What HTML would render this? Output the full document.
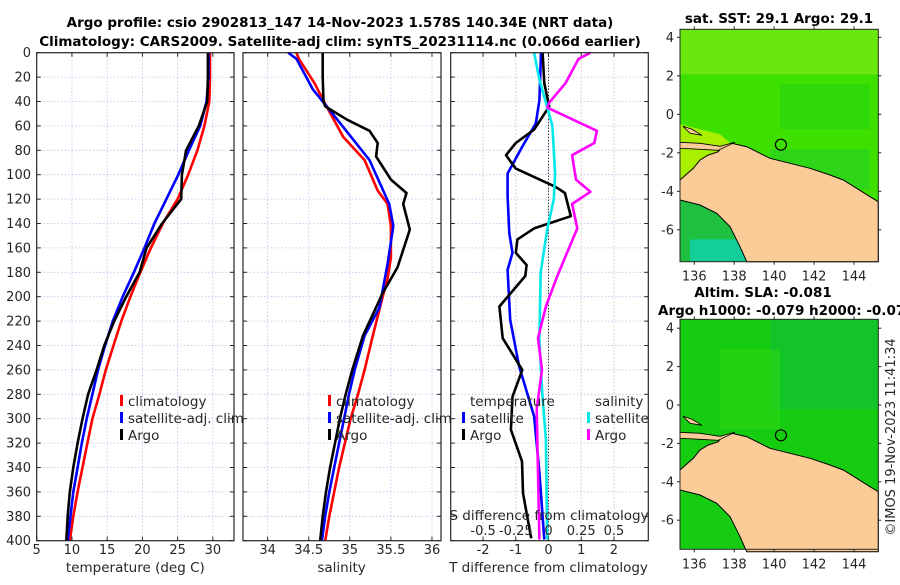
<!DOCTYPE html>
<html><head><meta charset="utf-8"><style>
body{margin:0;background:#fff;width:900px;height:580px;overflow:hidden}
svg text{font-family:"DejaVu Sans","Liberation Sans",sans-serif;fill:#262626}
</style></head><body>
<svg id="fig" width="900" height="580" viewBox="0 0 900 580" xmlns="http://www.w3.org/2000/svg">
<g id="maps"></g>
<g id="plots"></g>
<g id="txt">
<text x="340" y="27" text-anchor="middle" font-size="13.5" font-weight="bold" style="fill:#000">Argo profile: csio 2902813_147 14-Nov-2023 1.578S 140.34E (NRT data)</text>
<text x="340" y="46" text-anchor="middle" font-size="13.5" font-weight="bold" style="fill:#000">Climatology: CARS2009. Satellite-adj clim: synTS_20231114.nc (0.066d earlier)</text>
<text x="779" y="23" text-anchor="middle" font-size="13.5" font-weight="bold" style="fill:#000">sat. SST: 29.1 Argo: 29.1</text>
<text x="763" y="297" text-anchor="middle" font-size="13.5" font-weight="bold" style="fill:#000">Altim. SLA: -0.081</text>
<text x="658" y="315" font-size="13.5" font-weight="bold" style="fill:#000">Argo h1000: -0.079 h2000: -0.07</text>
<text transform="translate(895,437) rotate(-90)" text-anchor="middle" font-size="13">©IMOS 19-Nov-2023 11:41:34</text>
</g>
</svg>
<script>
// ---------- data ----------
const depthTicks=[0,20,40,60,80,100,120,140,160,180,200,220,240,260,280,300,320,340,360,380,400];
const stdDepths=[0,20,40,60,80,100,120,140,160,180,200,220,240,260,280,300,320,340,360,380,400];
const tempClim=[29.6,29.6,29.5,28.8,27.8,26.5,25.0,22.9,21.2,19.7,18.3,17.0,15.9,14.8,13.9,12.9,12.2,11.5,10.8,10.2,9.7];
const tempSat=[29.4,29.4,29.1,28.2,26.6,25.1,23.4,21.7,20.3,18.8,17.2,15.8,14.7,13.7,12.9,12.1,11.4,10.8,10.2,9.8,9.4];
const tempArgo=[29.3,29.3,29.2,28.0,26.2,25.6,25.5,22.8,20.6,19.6,17.7,16.0,14.6,13.5,12.3,11.5,10.8,10.2,9.7,9.4,9.2];
const salDepths=[0,5,25,42,69,88,113,124,142,168,185,200,232,260,280,300,320,340,360,380,400];
const salClim=[34.35,34.38,34.57,34.70,34.92,35.18,35.34,35.46,35.50,35.50,35.46,35.40,35.28,35.18,35.10,35.01,34.94,34.87,34.81,34.75,34.70];
const salSatDepths=[0,5,30,44,88,124,142,173,209,232,260,280,300,320,340,360,380,400];
const salSat=[34.25,34.35,34.55,34.72,35.24,35.48,35.53,35.46,35.36,35.18,35.06,34.99,34.93,34.87,34.81,34.75,34.70,34.66];
const salArgoDepths=[0,20,40,44,55,64,74,85,104,115,124,145,176,197,232,260,280,300,320,340,360,380,400];
const salArgo=[34.67,34.67,34.68,34.70,34.97,35.24,35.34,35.32,35.50,35.69,35.65,35.73,35.58,35.40,35.16,35.03,34.95,34.88,34.82,34.76,34.71,34.67,34.64];
const tdSatDepths=[0,39,58,77,99,118,148,164,178,219,257,298,344,399];
const tdSat=[-0.23,-0.28,-0.39,-0.8,-1.25,-1.25,-1.2,-1.1,-1.25,-1.17,-0.9,-0.44,-0.28,-0.13];
const tdArgoDepths=[0,25,44,63,74,84,95,110,115,134,144,153,164,174,183,208,234,260,282,309,335,361,398];
const tdArgo=[-0.18,-0.13,0.02,-0.44,-1.0,-1.3,-1.0,0.22,0.5,0.68,-0.44,-0.95,-1.0,-0.67,-0.71,-1.5,-1.4,-0.8,-1.1,-1.15,-0.81,-0.78,-0.53];
const sdSatDepths=[0,22,41,60,99,120,145,180,235,276,317,399];
const sdSat=[-0.11,-0.07,-0.02,0.03,0.05,0.04,-0.01,-0.06,-0.07,-0.05,-0.02,-0.01];
const sdArgoDepths=[0,5,25,41,45,64,74,84,104,114,124,144,167,185,208,234,260,292,344,399];
const sdArgo=[0.32,0.23,0.13,0.005,-0.01,0.37,0.35,0.18,0.21,0.32,0.18,0.22,0.13,0.06,-0.02,-0.08,-0.05,-0.09,-0.08,-0.07];
const tempTicks=[5,10,15,20,25,30];
const salTicks=[34,34.5,35,35.5,36];
const tdTicks=[-2,-1,0,1,2];
const sdTicks=[-0.5,-0.25,0,0.25,0.5];
const latTicks=[4,2,0,-2,-4,-6];
const lonTicks=[136,138,140,142,144];

// ---------- helpers ----------
const NS='http://www.w3.org/2000/svg';
function mk(parent,tag,attrs,text){const e=document.createElementNS(NS,tag);for(const k in attrs)e.setAttribute(k,attrs[k]);if(text!==undefined)e.textContent=text;parent.appendChild(e);return e;}
const plots=document.getElementById('plots');
const Y0=52.7,Y1=540.7;
const yD=d=>Y0+(d/400)*(Y1-Y0);
const panels=[
 {name:'temperature-panel',x0:36.7,x1:234,v0:5,v1:33.0},
 {name:'salinity-panel',x0:243,x1:441,v0:33.70,v1:36.11},
 {name:'difference-panel',x0:450.7,x1:648.3,v0:-2.99,v1:3.05}
];
function xf(p){return v=>p.x0+(v-p.v0)/(p.v1-p.v0)*(p.x1-p.x0);}
const xT=xf(panels[0]),xS=xf(panels[1]),xD=xf(panels[2]);
const xSD=v=>xD(v*4);

panels.forEach((p,i)=>{
 const g=mk(plots,'g',{});
 
 
 const ticks=i===0?tempTicks:i===1?salTicks:tdTicks;
 const xs=i===0?xT:i===1?xS:xD;
 const grid=mk(g,'g',{stroke:'#b8c0e8','stroke-width':0.8,'stroke-dasharray':'1.5,2'});
 
 
 depthTicks.forEach(d=>mk(grid,'line',{x1:p.x0,x2:p.x1,y1:yD(d),y2:yD(d)}));
 ticks.forEach(t=>mk(grid,'line',{x1:xs(t),x2:xs(t),y1:Y0,y2:Y1}));
 if(i===2){sdTicks.forEach(t=>{if(t!==0)mk(grid,'line',{x1:xSD(t),x2:xSD(t),y1:Y0,y2:Y1,stroke:'#e8c8b0'});});}
 const tk=mk(g,'g',{stroke:'#262626','stroke-width':1});
 depthTicks.forEach(d=>{mk(tk,'line',{x1:p.x0,x2:p.x0+4,y1:yD(d),y2:yD(d)});mk(tk,'line',{x1:p.x1,x2:p.x1-4,y1:yD(d),y2:yD(d)});});
 ticks.forEach(t=>{mk(tk,'line',{x1:xs(t),x2:xs(t),y1:Y1,y2:Y1-4});mk(tk,'line',{x1:xs(t),x2:xs(t),y1:Y0,y2:Y0+4});});
 ticks.forEach(t=>{const l=mk(g,'text',{x:xs(t),y:554,'text-anchor':'middle','font-size':13},String(t));});
});
depthTicks.forEach(d=>{const l=mk(plots,'text',{x:31,y:yD(d)+4.5,'text-anchor':'end','font-size':13},String(d));});
const zl=mk(plots,'line',{x1:xD(0),x2:xD(0),y1:Y0,y2:Y1,stroke:'#000','stroke-width':1,'stroke-dasharray':'1,2'});



function line(xfn,vals,deps,color,name){
 const d=vals.map((v,i)=>(i?'L':'M')+xfn(v).toFixed(1)+','+yD(deps[i]).toFixed(1)).join('');
 const e=mk(plots,'path',{d:d,fill:'none',stroke:color,'stroke-width':2.6,'stroke-linejoin':'round'});
 
 
}
line(xT,tempClim,stdDepths,'#ff0000','temp-climatology-line');
line(xT,tempSat,stdDepths,'#0000ff','temp-satellite-line');
line(xT,tempArgo,stdDepths,'#000000','temp-argo-line');
line(xS,salClim,salDepths,'#ff0000','sal-climatology-line');
line(xS,salSat,salSatDepths,'#0000ff','sal-satellite-line');
line(xS,salArgo,salArgoDepths,'#000000','sal-argo-line');
line(xD,tdSat,tdSatDepths,'#0000ff','tdiff-satellite-line');
line(xD,tdArgo,tdArgoDepths,'#000000','tdiff-argo-line');
line(xSD,sdSat,sdSatDepths,'#00e8e8','sdiff-satellite-line');
line(xSD,sdArgo,sdArgoDepths,'#ff00ff','sdiff-argo-line');

panels.forEach(p=>{const r=mk(plots,'rect',{x:p.x0,y:Y0,width:p.x1-p.x0,height:Y1-Y0,fill:'none',stroke:'#262626','stroke-width':1.2});});

function leg(x,y,color,label,name){
 const g=mk(plots,'g',{});
 
 
 mk(g,'rect',{x:x,y:y-11,width:3,height:11,fill:color});
 mk(g,'text',{x:x+8,y:y,'font-size':13.5},label);
}
leg(120,406,'#ff0000','climatology','legend-climatology');
leg(120,423,'#0000ff','satellite-adj. clim','legend-satellite-adj');
leg(120,440,'#000000','Argo','legend-argo');
leg(328,406,'#ff0000','climatology','legend-sal-climatology');
leg(328,423,'#0000ff','satellite-adj. clim','legend-sal-satellite-adj');
leg(328,440,'#000000','Argo','legend-sal-argo');
mk(plots,'text',{x:470,y:406,'font-size':13.5},'temperature');
mk(plots,'text',{x:595,y:406,'font-size':13.5},'salinity');
leg(462,423,'#0000ff','satellite','legend-tdiff-satellite');
leg(462,440,'#000000','Argo','legend-tdiff-argo');
leg(587,423,'#00e8e8','satellite','legend-sdiff-satellite');
leg(587,440,'#ff00ff','Argo','legend-sdiff-argo');
mk(plots,'text',{x:549,y:520,'text-anchor':'middle','font-size':13.5},'S difference from climatology');
sdTicks.forEach(t=>{const l=mk(plots,'text',{x:xSD(t),y:535,'text-anchor':'middle','font-size':13},String(t));});
[['temperature (deg C)',xT(19)],['salinity',xS(34.9)],['T difference from climatology',xD(0)]].forEach(a=>{const l=mk(plots,'text',{x:a[1],y:572,'text-anchor':'middle','font-size':13.5},a[0]);});

// ---------- maps ----------
const maps=document.getElementById('maps');
function drawMap(top,bottom,lat0y,pxPerLat,kind,name){
 const L=680,R=878.3;
 const g=mk(maps,'g',{});
 
 
 const lonX=lon=>694.3+(lon-136)*19.96;
 const latY=lat=>lat0y-lat*pxPerLat;
 const dy=top-29.3;
 const base=kind==='sst'?'#3ee000':'#16cc10';
 mk(g,'rect',{x:L,y:top,width:R-L,height:bottom-top,fill:base});
 if(kind==='sst'){
  mk(g,'rect',{x:L,y:top,width:R-L,height:45,fill:'#78e810',opacity:0.8});
  mk(g,'rect',{x:L+100,y:top+55,width:90,height:45,fill:'#20d010',opacity:0.5});
  mk(g,'rect',{x:L+90,y:top+120,width:100,height:40,fill:'#20cc30',opacity:0.5});
  mk(g,'polygon',{points:`${L},${top+95} ${L+40},${top+105} ${L+55},${top+118} ${L+45},${top+130} ${L+20},${top+150} ${L},${top+180}`,fill:'#a8f000'});
  mk(g,'rect',{x:L,y:top+170,width:70,height:62,fill:'#20c040'});
  mk(g,'rect',{x:L+10,y:top+210,width:55,height:22,fill:'#10d0b0',opacity:0.8});
 } else {
  mk(g,'rect',{x:L+90,y:top,width:R-L-90,height:90,fill:'#10b850',opacity:0.4});
  mk(g,'rect',{x:L+40,y:top+30,width:60,height:80,fill:'#30d810',opacity:0.5});
 }
 const pts=[[90,540],[130,505],[150,480],[175,465],[205,455],[215,440],[245,430],[290,440],[330,460],[360,475],[420,490],[480,505],[540,525],[580,540],[620,565],[660,590],[685,605],[685,785],[290,785],[270,740],[240,680],[200,640],[150,615],[90,600]];
 const poly=pts.map(p=>(650+p[0]/3).toFixed(1)+','+(p[1]/3+dy).toFixed(1)).join(' ');
 const land=mk(g,'polygon',{points:poly,fill:'#fbcc98',stroke:'#000','stroke-width':1});
 
 
 const strip=mk(g,'polygon',{points:`680,${top+113} 700,${top+114} 720,${top+117} 735,${top+113} 718,${top+121} 700,${top+120} 680,${top+119}`,fill:'#fbcc98',stroke:'#000','stroke-width':0.8});
 
 
 mk(g,'polygon',{points:`683,${top+97} 692,${top+100} 702,${top+106} 690,${top+104}`,fill:'#fbcc98',stroke:'#000','stroke-width':0.8});
 const c=mk(g,'circle',{cx:lonX(140.34),cy:latY(-1.578),r:5.5,fill:'none',stroke:'#000','stroke-width':1.2});
 
 
 mk(g,'rect',{x:L,y:top,width:R-L,height:bottom-top,fill:'none',stroke:'#262626','stroke-width':1});
 latTicks.forEach(t=>{const y=latY(t);mk(g,'line',{x1:L-3,x2:L,y1:y,y2:y,stroke:'#262626'});mk(g,'line',{x1:R,x2:R+3,y1:y,y2:y,stroke:'#262626'});const l=mk(g,'text',{x:L-6,y:y+4.5,'text-anchor':'end','font-size':13},String(t));});
 lonTicks.forEach(t=>{const x=lonX(t);mk(g,'line',{x1:x,x2:x,y1:bottom,y2:bottom+3,stroke:'#262626'});mk(g,'line',{x1:x,x2:x,y1:top-3,y2:top,stroke:'#262626'});const l=mk(g,'text',{x:x,y:bottom+19,'text-anchor':'middle','font-size':13},String(t));});
}
drawMap(29.3,261.7,114.3,19.25,'sst','sst-map');
drawMap(319.3,549.3,405,19.2,'sla','sla-map');
</script>
</body></html>
